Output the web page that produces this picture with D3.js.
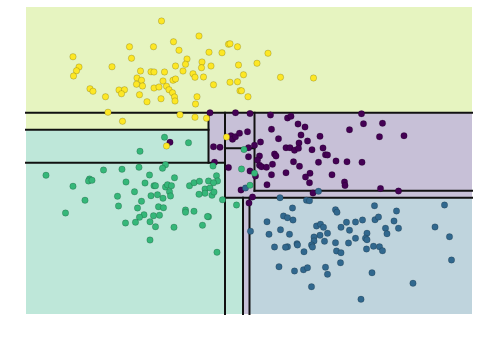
<!DOCTYPE html>
<html>
<head>
<meta charset="utf-8">
<script src="https://cdn.jsdelivr.net/npm/d3@7"></script>
<style>
  html, body { margin: 0; padding: 0; background: #ffffff; }
  svg { display: block; }
</style>
</head>
<body>
<svg id="chart" width="479" height="337"></svg>
<script>
// ---- data ----
const classNames = ["purple", "blue", "green", "yellow"];
const xDomain = [-4.2, 4.72];
const yDomain = [-1.88, 10.4];

const pointsYellow = [
  [-1.49,9.84],[-0.74,9.24],[-1.25,9.01],[-2.13,8.81],[-1.65,8.81],[-1.14,8.67],[-0.54,8.59],[-0.28,8.57],
  [-0.15,8.91],[-0.12,8.93],[0.03,8.81],[-3.26,8.41],[-2.09,8.35],[-0.98,8.32],[-0.68,8.20],[-3.14,8.00],
  [-3.19,7.85],[-3.25,7.64],[-2.48,8.01],[-1.21,8.04],[-1.01,8.11],[-0.69,7.97],[-0.50,8.04],[-1.91,7.84],
  [-1.70,7.81],[-1.64,7.80],[-1.43,7.80],[-1.06,7.84],[-0.86,7.73],[-0.82,7.59],[-0.65,7.60],[-1.98,7.56],
  [-1.89,7.47],[-1.46,7.44],[-1.26,7.47],[-1.21,7.52],[-1.99,7.31],[-1.87,7.24],[-1.39,7.23],[-1.64,7.16],
  [-1.54,7.20],[-1.34,7.09],[-1.27,6.97],[-0.45,7.29],[-0.12,7.39],[0.03,7.41],[0.08,7.05],[0.05,8.08],
  [-2.92,7.13],[-2.86,7.03],[-2.34,7.08],[-2.23,7.09],[-2.29,6.93],[-1.93,6.89],[-2.61,6.81],[-1.23,6.80],
  [-1.22,6.64],[-0.78,6.81],[-1.50,6.73],[-1.78,6.61],[-0.81,6.52],[-2.56,6.19],[-1.12,6.09],[-0.82,5.99],
  [-0.59,5.95],[-2.27,5.83],[-1.39,4.84],[-0.19,5.20],[0.64,8.55],[0.42,8.15],[0.15,7.69],[0.89,7.59],
  [1.55,7.56],[0.11,7.05],[0.24,6.81]
];

const pointsPurple = [
  [-0.52,6.17],[-0.01,6.17],[0.28,6.14],[0.69,6.08],[1.03,5.96],[1.10,6.03],[2.51,6.13],[2.55,5.73],
  [2.93,5.75],[1.24,5.72],[1.38,5.60],[0.71,5.51],[2.27,5.49],[2.87,5.21],[3.36,5.25],[1.30,5.28],
  [1.68,5.23],[0.85,5.13],[1.43,5.04],[0.49,5.00],[0.23,5.41],[1.26,4.96],[0.37,4.87],[1.00,4.77],
  [1.08,4.77],[1.17,4.67],[1.25,4.75],[1.52,4.69],[1.74,4.76],[0.25,4.77],[0.25,4.41],[0.47,4.44],
  [0.77,4.52],[0.80,4.44],[1.79,4.49],[1.83,4.48],[1.15,4.21],[1.65,4.19],[2.00,4.24],[2.22,4.21],
  [2.52,4.19],[0.73,4.11],[0.47,4.07],[0.51,4.01],[0.61,3.99],[1.27,4.03],[0.28,3.84],[0.43,4.28],
  [1.00,3.77],[0.71,3.69],[1.48,3.75],[1.39,3.60],[1.92,3.69],[0.39,3.64],[1.47,3.37],[2.17,3.40],
  [2.18,3.26],[0.62,3.29],[2.89,3.14],[3.25,3.04],[1.54,2.96],[0.33,2.80],[0.10,3.08],[0.26,2.56],
  [-0.10,5.25],[-0.07,5.11],[-0.01,5.21],[0.07,5.35],[-1.32,4.99],[-0.45,4.81],[-0.32,4.79],[-0.43,4.19],
  [-0.15,3.98]
];

const pointsGreen = [
  [-1.43,5.19],[-0.95,4.97],[-1.92,4.63],[-1.94,3.99],[-1.41,4.09],[-1.47,3.95],[-2.65,3.88],[-2.28,3.91],
  [-0.46,4.04],[-3.80,3.67],[-3.26,3.23],[-3.02,2.67],[-3.41,2.16],[-2.93,3.52],[-2.95,3.44],[-2.88,3.47],
  [-1.73,3.68],[-1.23,3.57],[-2.20,3.40],[-1.82,3.36],[-1.64,3.25],[-1.61,3.25],[-2.03,3.01],[-2.37,2.83],
  [-2.35,2.44],[-1.89,2.63],[-1.97,2.36],[-1.70,2.85],[-1.57,2.89],[-1.41,3.20],[-1.37,3.29],[-1.29,3.25],
  [-1.33,3.01],[-1.31,2.84],[-1.46,2.75],[-1.55,2.41],[-1.45,2.37],[-1.84,2.09],[-1.93,1.99],[-1.65,2.05],
  [-1.53,2.07],[-2.21,1.76],[-2.01,1.79],[-1.72,1.81],[-1.61,1.61],[-1.24,1.59],[-1.01,2.28],[-1.01,2.19],
  [-0.84,2.23],[-1.72,1.08],[-0.93,3.25],[-0.84,3.37],[-0.73,3.43],[-0.55,3.44],[-0.39,3.65],[-0.37,3.44],
  [-0.45,3.37],[-0.62,3.12],[-0.62,2.95],[-0.52,3.16],[-0.48,2.87],[-0.44,3.00],[-0.74,2.91],[-0.27,2.69],
  [-0.55,2.01],[-0.57,2.02],[-0.67,1.67],[-0.38,0.59],[0.01,2.48],[0.16,4.70],[0.11,3.92],[0.37,3.75],
  [0.28,3.27]
];

const pointsBlue = [
  [0.88,2.77],[1.41,2.67],[1.47,2.65],[2.77,2.45],[4.17,2.48],[1.13,2.36],[1.99,2.29],[2.02,2.19],
  [3.21,2.24],[0.95,2.04],[1.03,1.97],[1.14,1.88],[0.62,1.81],[2.78,1.89],[2.85,2.00],[3.16,1.84],
  [2.53,1.88],[2.39,1.80],[2.21,1.79],[1.61,1.64],[1.69,1.71],[1.75,1.59],[2.10,1.59],[2.27,1.47],
  [2.99,1.55],[3.25,1.55],[3.02,1.33],[3.98,1.60],[0.89,1.49],[0.66,1.31],[1.07,1.31],[1.83,1.35],
  [1.68,1.27],[1.56,1.20],[1.56,1.04],[2.62,1.35],[2.59,1.15],[2.62,1.09],[2.39,1.15],[1.77,1.03],
  [1.99,0.97],[2.25,0.96],[4.27,1.21],[0.29,1.43],[1.22,0.93],[1.23,0.88],[1.51,0.88],[1.53,0.80],
  [1.03,0.81],[0.99,0.79],[0.77,0.80],[2.75,0.83],[2.87,0.81],[2.93,0.65],[2.61,0.72],[1.36,0.61],
  [2.01,0.64],[2.10,0.57],[4.31,0.28],[2.09,0.17],[0.86,0.01],[1.17,-0.16],[1.35,-0.11],[1.43,-0.03],
  [1.79,-0.01],[1.83,-0.29],[2.72,-0.23],[3.54,-0.65],[1.51,-0.79],[2.50,-1.29],[1.65,3.03],[0.19,3.16]
];

// predicted class regions of the fitted tree: [x0, x1, y0, y1, classIndex]
const regionList = [
  [-4.2, 4.72, 6.17, 10.4, 3],
  [-4.2, -0.55, 5.49, 6.17, 3],
  [-4.2, -0.55, 4.17, 5.49, 2],
  [-0.55, -0.22, 4.17, 6.17, 0],
  [-4.2, -0.22, -1.88, 4.17, 2],
  [-0.22, 0.37, 2.77, 6.17, 0],
  [0.37, 4.72, 3.05, 6.17, 0],
  [0.37, 4.72, 2.77, 3.05, 0],
  [-0.22, 0.14, -1.88, 2.77, 2],
  [0.14, 0.27, -1.88, 2.77, 0],
  [0.27, 4.72, -1.88, 2.77, 1]
];

// split boundaries: [axis, threshold, from, to]
const splitList = [
  ["y", 6.17, -4.2, 4.72],
  ["y", 5.49, -4.2, -0.55],
  ["x", -0.55, 4.17, 6.17],
  ["y", 4.17, -4.2, -0.22],
  ["x", -0.22, -1.88, 6.17],
  ["y", 2.77, -0.22, 4.72],
  ["x", 0.37, 3.05, 6.17],
  ["y", 4.75, -0.22, 0.37],
  ["y", 3.05, 0.37, 4.72],
  ["x", 0.14, -1.88, 2.77],
  ["x", 0.27, -1.88, 2.77]
];

// ---- drawing ----
const svg = d3.select("#chart");
const x = d3.scaleLinear().domain(xDomain).range([26, 472]);
const y = d3.scaleLinear().domain(yDomain).range([314, 7]);

// region fill colours: contourf layer colours with alpha 0.3
const regionT = [0.125, 0.375, 0.625, 0.875];
const pointT = [0, 1/3, 2/3, 1];
const pointColor = i => d3.interpolateViridis(pointT[i]);

svg.append("g").selectAll("rect").data(regionList).join("rect")
  .attr("x", d => x(d[0]))
  .attr("y", d => y(d[3]))
  .attr("width", d => x(d[1]) - x(d[0]))
  .attr("height", d => y(d[2]) - y(d[3]))
  .attr("fill", d => d3.interpolateViridis(regionT[d[4]]))
  .attr("fill-opacity", 0.3)
  .attr("shape-rendering", "crispEdges");

svg.append("g").selectAll("line").data(splitList).join("line")
  .attr("x1", d => d[0] === "x" ? x(d[1]) : x(d[2]))
  .attr("x2", d => d[0] === "x" ? x(d[1]) : x(d[3]))
  .attr("y1", d => d[0] === "y" ? y(d[1]) : y(d[2]))
  .attr("y2", d => d[0] === "y" ? y(d[1]) : y(d[3]))
  .attr("stroke", "#111")
  .attr("stroke-width", 2)
  .attr("stroke-linecap", "square");

const allSets = [pointsPurple, pointsBlue, pointsGreen, pointsYellow];
const pts = [];
allSets.forEach((set, ci) => set.forEach(p => pts.push({x: p[0], y: p[1], c: ci})));

svg.append("g").selectAll("circle").data(pts).join("circle")
  .attr("cx", d => x(d.x))
  .attr("cy", d => y(d.y))
  .attr("r", 3.2)
  .attr("fill", d => pointColor(d.c))
  .attr("stroke", "#000")
  .attr("stroke-opacity", 0.25)
  .attr("stroke-width", 0.7);
</script>
</body>
</html>
